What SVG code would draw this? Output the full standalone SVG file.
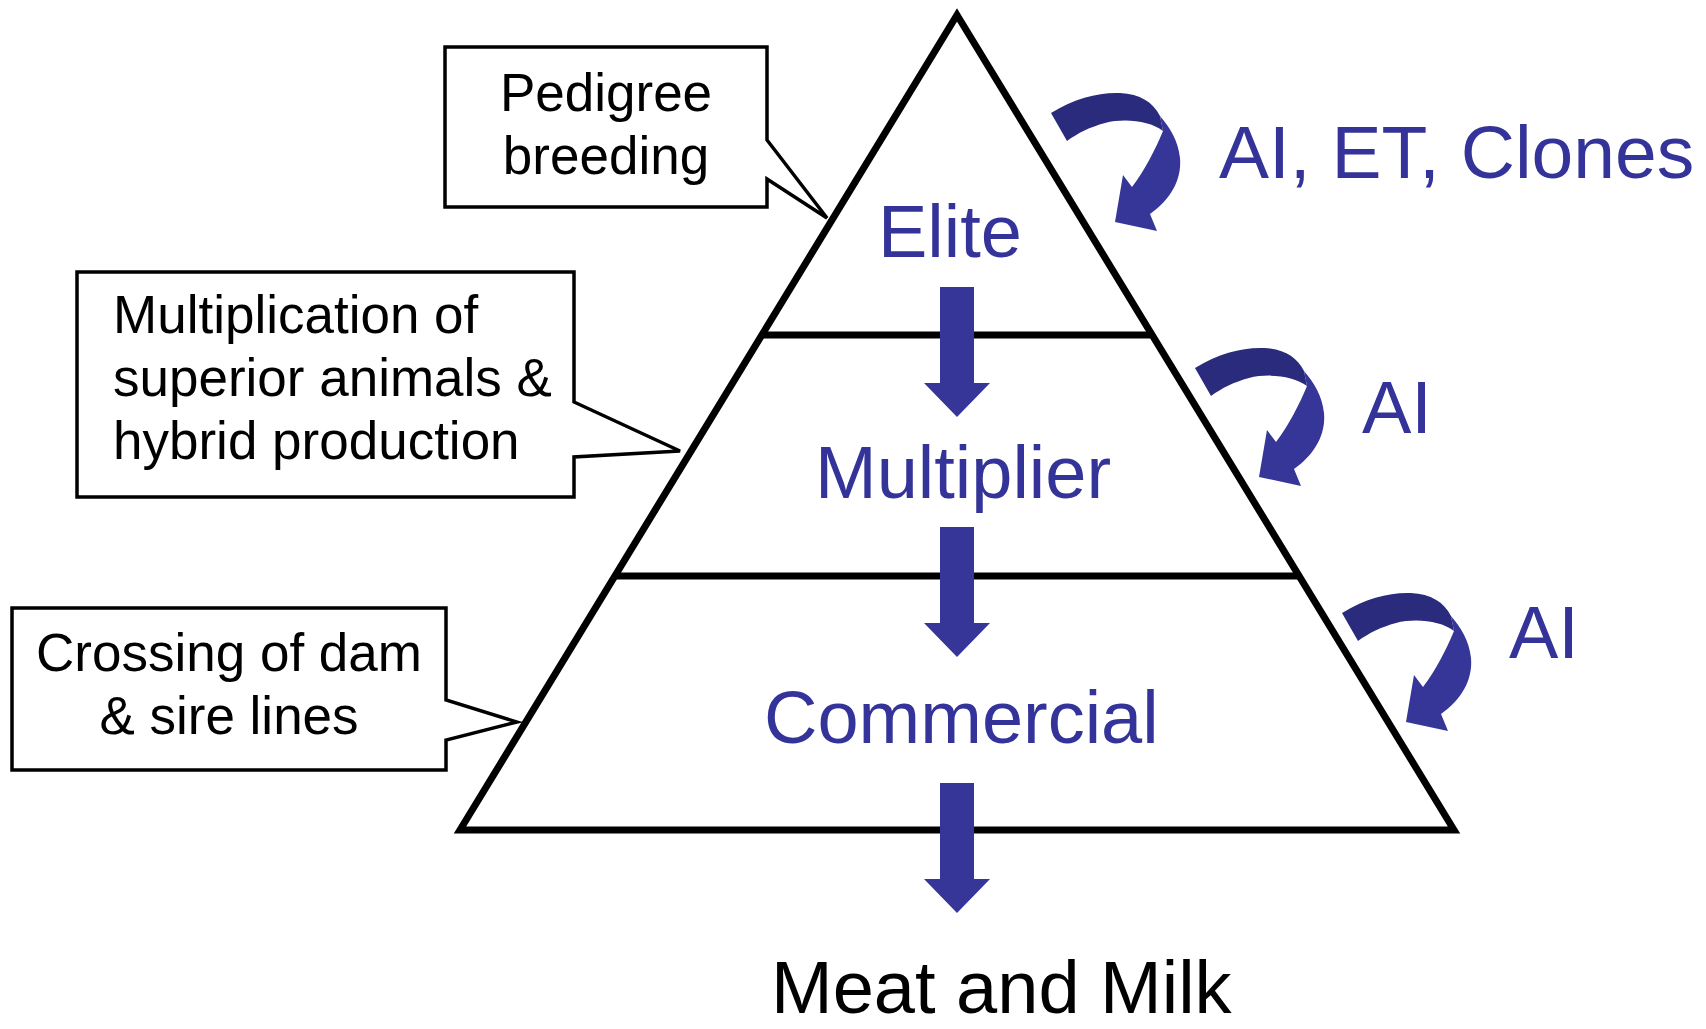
<svg xmlns="http://www.w3.org/2000/svg" width="1706" height="1029" viewBox="0 0 1706 1029">
<style>
.bg{fill:#ffffff}
.tri{fill:none;stroke:#000;stroke-width:7;stroke-linejoin:miter;stroke-miterlimit:10}
.tier{stroke:#000;stroke-width:7}
.call{fill:#fff;stroke:#000;stroke-width:3.5;stroke-linejoin:miter}
.ct{font-family:"Liberation Sans",Arial,sans-serif;font-size:53px;fill:#000}
.bt{font-family:"Liberation Sans",Arial,sans-serif;font-size:74px;fill:#333399}
.kt{font-family:"Liberation Sans",Arial,sans-serif;font-size:74px;fill:#000}
.dn{fill:#363699}
.cd{fill:#2b2b7e}
.cl{fill:#363699}
</style>
<defs>
<path id="downArrow" d="M-17,0 H17 V96 H33 L0,130 L-33,96 H-17 Z"/>
<g id="curl">
<path class="cd" d="M1051,113 C1075,98 1100,92 1120,93 C1140,94 1153,102 1160,116 L1163,131 C1150,121 1125,118 1105,123 C1090,127 1078,133 1067,141 Z"/>
<path class="cl" d="M1160,116 C1170,128 1178,140 1180,158 C1182,180 1170,200 1150,214 L1157,231 L1115,222 L1123,175 L1132,187 C1145,170 1155,150 1163,131 Z"/>
</g>
</defs>
<rect class="bg" x="0" y="0" width="1706" height="1029"/>

<g id="pyramid">
<path class="tri" d="M957,15 L1454,830 L460,830 Z"/>
<line class="tier" x1="761" y1="335" x2="1153" y2="335"/>
<line class="tier" x1="615" y1="576" x2="1299" y2="576"/>
</g>

<g id="connectors">
<use href="#downArrow" class="dn" x="957" y="287"/>
<use href="#downArrow" class="dn" x="957" y="527"/>
<use href="#downArrow" class="dn" x="957" y="783"/>
<use href="#curl"/>
<use href="#curl" x="144" y="255"/>
<use href="#curl" x="291" y="500"/>
</g>

<g id="elite"><text class="bt" x="878" y="257">Elite</text></g>
<g id="multiplier"><text class="bt" x="815" y="498">Multiplier</text></g>
<g id="commercial"><text class="bt" x="764" y="743">Commercial</text></g>
<g id="meat-milk"><text class="kt" x="771" y="1013">Meat and Milk</text></g>

<g id="label-elite"><text class="bt" x="1219" y="178" style="font-size:75px">AI, ET, Clones</text></g>
<g id="label-multiplier"><text class="bt" x="1362" y="433">AI</text></g>
<g id="label-commercial"><text class="bt" x="1509" y="658">AI</text></g>

<g id="callout-pedigree">
<path class="call" d="M445,47 H767 V140 L827,218 L767,179 V207 H445 Z"/>
<text class="ct" x="606" y="111" text-anchor="middle">Pedigree</text>
<text class="ct" x="606" y="174" text-anchor="middle">breeding</text>
</g>

<g id="callout-multiplication">
<path class="call" d="M77,272 H574 V402 L680,451 L574,457 V497 H77 Z"/>
<text class="ct" x="113" y="333">Multiplication of</text>
<text class="ct" x="113" y="396">superior animals &amp;</text>
<text class="ct" x="113" y="459">hybrid production</text>
</g>

<g id="callout-crossing">
<path class="call" d="M12,608 H446 V700 L517,722 L446,740 V770 H12 Z"/>
<text class="ct" x="229" y="671" text-anchor="middle">Crossing of dam</text>
<text class="ct" x="229" y="734" text-anchor="middle">&amp; sire lines</text>
</g>
</svg>
